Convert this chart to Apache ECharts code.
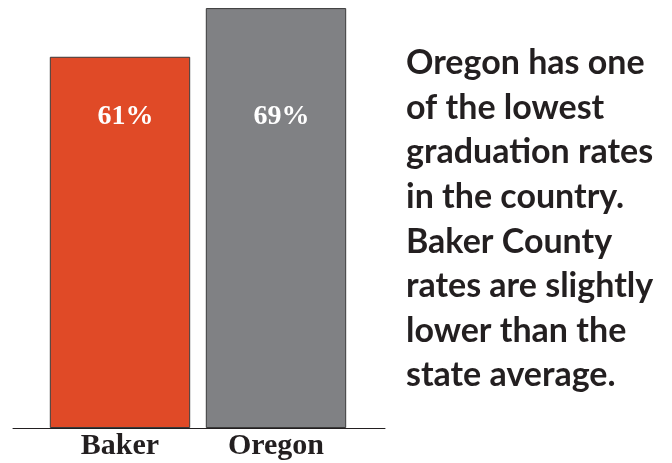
<!DOCTYPE html>
<html><head><meta charset="utf-8">
<script src="https://cdn.jsdelivr.net/npm/echarts@6/dist/echarts.min.js"></script>
<style>html,body{margin:0;padding:0;background:#fff}#c{width:672px;height:463px}</style>
</head><body><div id="c"></div>
<script>
var categories = ['Baker', 'Oregon'];
var values = [61, 69];
var valueLabels = ['61%', '69%'];
var noteLines = ['Oregon has one', 'of the lowest', 'graduation rates', 'in the country.', 'Baker County', 'rates are slightly', 'lower than the', 'state average.'];

var colors = ['#E04A27', '#808184'];
var labelTop = [60, 109];
var chart = echarts.init(document.getElementById('c'));
chart.setOption({
  animation: false,
  backgroundColor: '#ffffff',
  title: {
    text: noteLines.join('\n'),
    left: 401, top: 36,
    textStyle: { fontFamily: 'Lato', fontWeight: 'bold', fontSize: 34, lineHeight: 44.6, color: '#231f20' }
  },
  grid: [
    { left: 42, right: 318, top: 2, bottom: 35 },
    { left: 13, right: 287, top: 2, bottom: 35 }
  ],
  xAxis: [
    { type: 'category', gridIndex: 0, data: categories,
      axisLine: { show: false }, axisTick: { show: false },
      axisLabel: { margin: 3, fontFamily: 'Liberation Serif', fontWeight: 'bold', fontSize: 30, color: '#231f20' } },
    { type: 'value', gridIndex: 1, min: 0, max: 1,
      axisLine: { show: true, onZero: false, lineStyle: { color: '#231f20', width: 1 } },
      axisTick: { show: false }, axisLabel: { show: false }, splitLine: { show: false } }
  ],
  yAxis: [
    { type: 'value', gridIndex: 0, min: 0, max: 70, show: false },
    { type: 'value', gridIndex: 1, min: 0, max: 1, show: false }
  ],
  series: [{
    type: 'bar', xAxisIndex: 0, yAxisIndex: 0, barWidth: '90%',
    data: values.map(function (v, i) {
      return {
        value: v,
        itemStyle: { color: colors[i], borderColor: '#3a3a3a', borderWidth: 1 },
        label: { show: true, position: ['54%', labelTop[i]], align: 'center', verticalAlign: 'middle',
          formatter: valueLabels[i], fontFamily: 'Liberation Serif', fontWeight: 'bold', fontSize: 28, color: '#ffffff' }
      };
    })
  }]
});
</script></body></html>
